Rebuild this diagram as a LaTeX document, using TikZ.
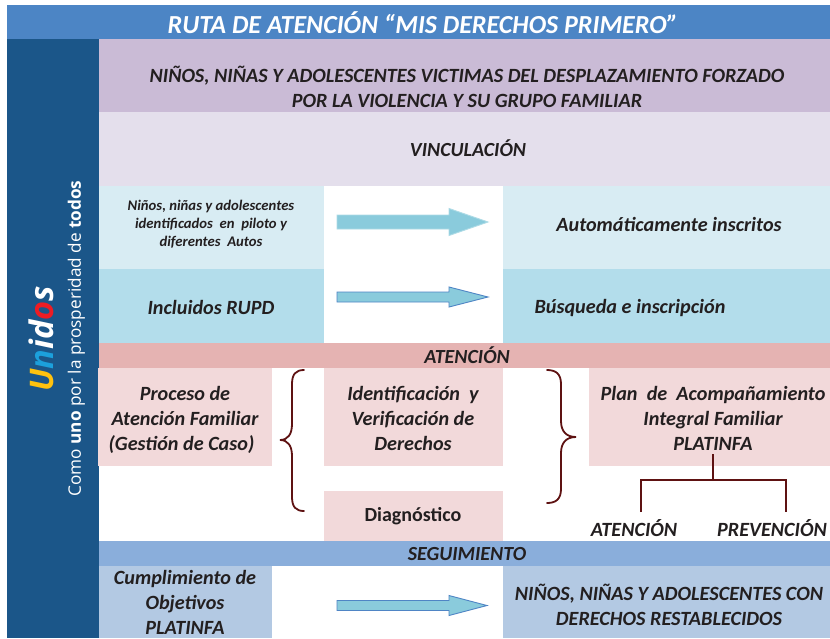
\documentclass[tikz,border=0pt]{standalone}
\usepackage{fontspec}
\setmainfont{Carlito}
\newfontfamily\sidefont{Open Sans}
\definecolor{titleblue}{HTML}{4C85C5}
\definecolor{sideblue}{HTML}{1B5689}
\definecolor{purpleA}{HTML}{CABBD6}
\definecolor{purpleB}{HTML}{E4DFEC}
\definecolor{cyanA}{HTML}{D8ECF3}
\definecolor{cyanB}{HTML}{B3DDEB}
\definecolor{pinkA}{HTML}{E5B3B2}
\definecolor{pinkB}{HTML}{F2D9DA}
\definecolor{blueA}{HTML}{8AAEDB}
\definecolor{blueB}{HTML}{B3C9E3}
\definecolor{arrowfill}{HTML}{8ACBDC}
\definecolor{arrowline}{HTML}{4F85C5}
\definecolor{bracecol}{HTML}{5E1212}
\definecolor{inktext}{HTML}{231F20}
\definecolor{unyellow}{HTML}{FFC20E}
\definecolor{unblue}{HTML}{1CA0DC}
\definecolor{unred}{HTML}{ED1C24}
\tikzset{
  x=1pt,y=-1pt,
  panel/.style={anchor=center,inner sep=0pt,outer sep=0pt,align=center,text=inktext,font=\bfseries\itshape\fontsize{#1}{25}\selectfont},
  flow/.style={draw=arrowline,line width=.9pt,fill=arrowfill,line join=miter},
  flowsoft/.style={draw=arrowfill!70!white,line width=.9pt,fill=arrowfill,line join=miter},
  bracket/.style={draw=bracecol,line width=1.8pt,line cap=round},
  branch/.style={draw=bracecol,line width=1.8pt},
}
\newcommand{\boxat}[6]{% name, x1,y1,x2,y2, colour
  \fill[#6] (#2,#3) rectangle (#4,#5);
  \coordinate (#1) at ({(#2+#4)/2},{(#3+#5)/2});
}
% style, x start, x head base, x tip, y centre, shaft half, head half
\newcommand{\flowarrow}[7]{%
  \draw[#1] (#2,#5-#6) -- (#3,#5-#6) -- (#3,#5-#7) -- (#4,#5) -- (#3,#5+#7) -- (#3,#5+#6) -- (#2,#5+#6) -- cycle;
}
\begin{document}
\begin{tikzpicture}
\useasboundingbox (0,0) rectangle (830,638);
\fill[white] (0,0) rectangle (830,638);
\boxat{bTitle}{7}{5}{830}{39}{titleblue}
\boxat{bSide}{7}{39}{99}{638}{sideblue}
\boxat{bGroup}{99}{39}{830}{112}{purpleA}
\boxat{bVinc}{99}{112}{830}{186}{purpleB}
\boxat{bNin}{99}{186}{324}{269}{cyanA}
\boxat{bAuto}{503}{186}{830}{269}{cyanA}
\boxat{bInc}{99}{269}{324}{343}{cyanB}
\boxat{bBus}{503}{269}{830}{343}{cyanB}
\boxat{bAten}{99}{343}{830}{368}{pinkA}
\boxat{bProc}{98}{368}{272}{466}{pinkB}
\boxat{bIden}{324}{368}{503}{466}{pinkB}
\boxat{bPlan}{589}{368}{830}{466}{pinkB}
\boxat{bDiag}{324}{491}{503}{541}{pinkB}
\boxat{bSeg}{99}{541}{830}{566}{blueA}
\boxat{bCum}{99}{566}{272}{638}{blueB}
\boxat{bRest}{503}{566}{830}{638}{blueB}

\node[panel=26,text=white] (tTitle) at (423,22.5) {RUTA DE ATENCIÓN “MIS DERECHOS PRIMERO”};
\node[panel=20.2] (tGroup) at (467,87) {NIÑOS, NIÑAS Y ADOLESCENTES VICTIMAS DEL DESPLAZAMIENTO FORZADO\\POR LA VIOLENCIA Y SU GRUPO FAMILIAR};
\node[panel=20] (tVinc) at (468,148.5) {VINCULACIÓN};
\node[panel=14.7,font=\bfseries\itshape\fontsize{14.7}{18}\selectfont] (tNin) at (211,224) {Niños, niñas y adolescentes\\identificados\ \ en\ \ piloto y\\diferentes\ \ Autos};
\node[panel=20.2] (tAuto) at (669,224) {Automáticamente inscritos};
\node[panel=20.2] (tInc) at (211,307) {Incluidos RUPD};
\node[panel=20.2] (tBus) at (630,308) {Búsqueda e inscripción};
\node[panel=20] (tAten) at (467,355.5) {ATENCIÓN};
\node[panel=20.2] (tProc) at (185,420) {Proceso de\\Atención Familiar\\(Gestión de Caso)\hspace*{7pt}};
\node[panel=20.2] (tIden) at (413,418) {Identificación\ \ y\\Verificación de\\Derechos};
\node[panel=20.2] (tPlan) at (713,418) {Plan\ \ de\ \ Acompañamiento\\Integral Familiar\\PLATINFA};
\node[panel=20,font=\bfseries\fontsize{20}{22}\selectfont] (tDiag) at (413,516.5) {Diagnóstico};
\node[panel=20] (tSeg) at (467,554) {SEGUIMIENTO};
\node[panel=20.2] (tCum) at (185,602.5) {Cumplimiento de\\Objetivos\\PLATINFA};
\node[panel=20.2] (tRest) at (669,605) {NIÑOS, NIÑAS Y ADOLESCENTES CON\\DERECHOS RESTABLECIDOS};
\node[panel=20.2] (lA) at (634,528) {ATENCIÓN};
\node[panel=20.2] (lP) at (772,528) {PREVENCIÓN};

\node[rotate=90,inner sep=0pt,text=white,font=\sidefont\fontsize{17.2}{20}\selectfont] (tSide) at (76.5,338.5) {Como \textbf{uno} por la prosperidad de \textbf{todos}};
\node[rotate=90,inner sep=0pt,font=\sidefont\bfseries\itshape\fontsize{32.5}{34}\selectfont] (tUnidos) at (41,339) {\textcolor{unyellow}{U}\textcolor{unblue}{n}\textcolor{white}{id}\textcolor{unred}{o}\textcolor{white}{s}};

\flowarrow{flowsoft}{337}{449}{488}{222}{7}{13.5}
\flowarrow{flow}{337}{449}{488}{297}{5}{10}
\flowarrow{flow}{337}{449}{487}{605.5}{5}{10}

\draw[bracket] (304,370) .. controls (296,370) and (292,374) .. (292,384) -- (292,424) .. controls (292,434) and (288,440) .. (280,440) .. controls (288,440) and (292,446) .. (292,456) -- (292,497) .. controls (292,507) and (296,511) .. (304,511);
\draw[bracket] (547,370) .. controls (556,370) and (561,374) .. (561,384) -- (561,421) .. controls (561,431) and (566,437) .. (576,437) .. controls (566,437) and (561,443) .. (561,453) -- (561,489) .. controls (561,499) and (556,503) .. (547,503);

\coordinate (cTop) at (713,454);
\coordinate (cMid) at (713,480);
\coordinate (cL) at (641,512);
\coordinate (cR) at (786,512);
\draw[branch] (cTop) -- (cMid);
\draw[branch] (cL) |- (cMid) -| (cR);
\end{tikzpicture}
\end{document}
